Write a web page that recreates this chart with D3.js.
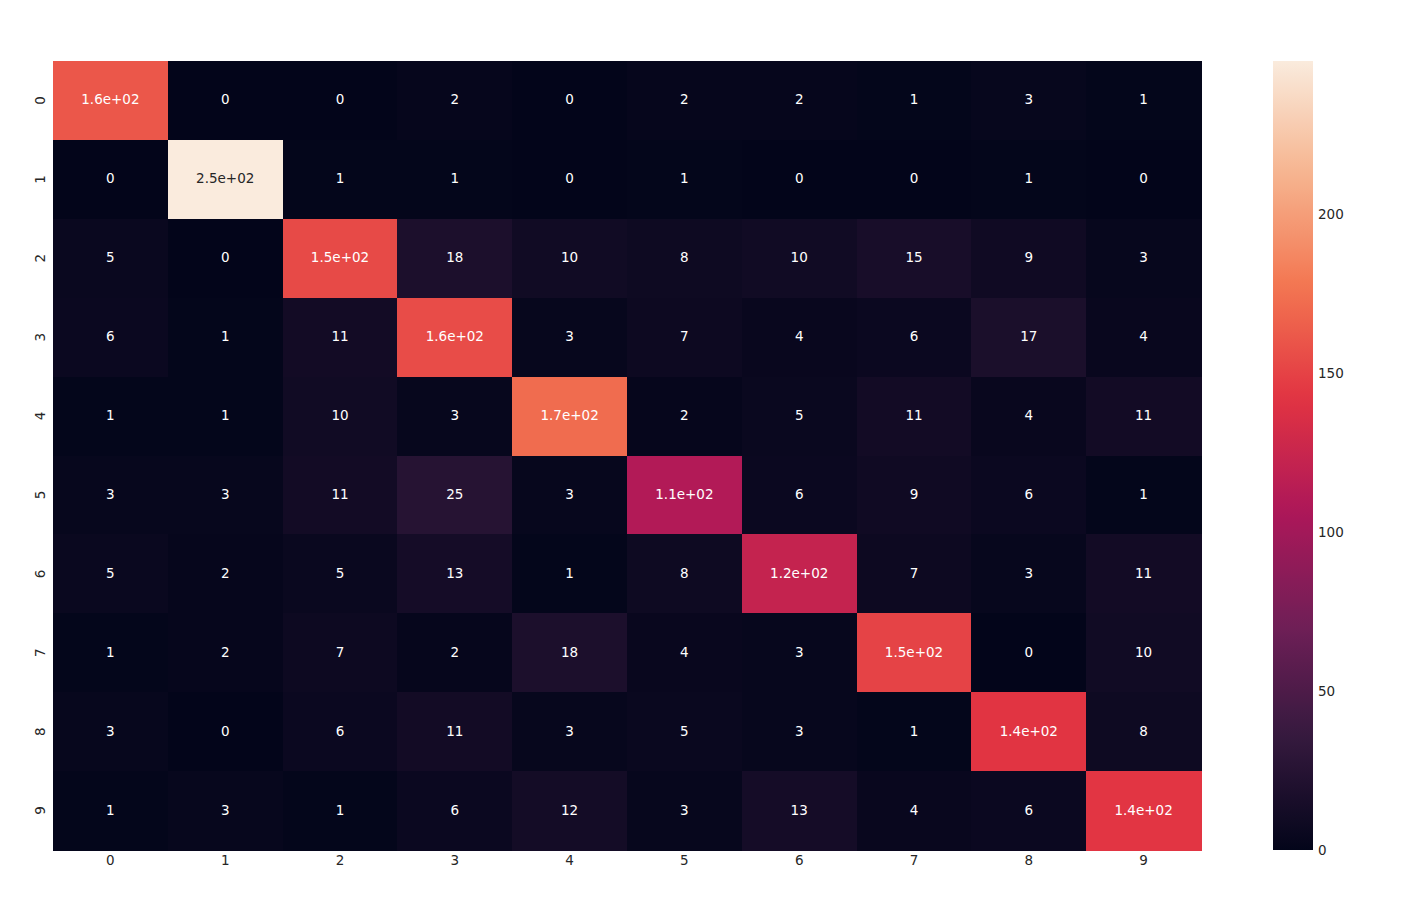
<!DOCTYPE html>
<html>
<head>
<meta charset="utf-8">
<script src="https://cdn.jsdelivr.net/npm/d3@7"></script>
<style>
  html, body { margin: 0; padding: 0; background: #ffffff; }
  svg text { font-family: "DejaVu Sans", sans-serif; }
</style>
</head>
<body>
<svg id="chart" width="1403" height="907"></svg>
<script>
// ---- data ----
const rowLabels = ["0", "1", "2", "3", "4", "5", "6", "7", "8", "9"];
const colLabels = ["0", "1", "2", "3", "4", "5", "6", "7", "8", "9"];
const row0 = [161, 0, 0, 2, 0, 2, 2, 1, 3, 1];
const row1 = [0, 248, 1, 1, 0, 1, 0, 0, 1, 0];
const row2 = [5, 0, 154, 18, 10, 8, 10, 15, 9, 3];
const row3 = [6, 1, 11, 155, 3, 7, 4, 6, 17, 4];
const row4 = [1, 1, 10, 3, 172, 2, 5, 11, 4, 11];
const row5 = [3, 3, 11, 25, 3, 110, 6, 9, 6, 1];
const row6 = [5, 2, 5, 13, 1, 8, 122, 7, 3, 11];
const row7 = [1, 2, 7, 2, 18, 4, 3, 150, 0, 10];
const row8 = [3, 0, 6, 11, 3, 5, 3, 1, 142, 8];
const row9 = [1, 3, 1, 6, 12, 3, 13, 4, 6, 143];
const matrix = [row0, row1, row2, row3, row4, row5, row6, row7, row8, row9];
const colorbarTicks = [0, 50, 100, 150, 200];

(function () {
// rocket colormap approximation (seaborn)
const rocketStops = ["#03051a", "#35193e", "#701f57", "#ad1759", "#e13342", "#f37651", "#f6b48f", "#faebdd"];
const rocketPos = rocketStops.map((d, i) => i === 0 ? 0 : i === rocketStops.length - 1 ? 1 : i / 7);
const rocket = d3.scaleLinear().domain(rocketPos).range(rocketStops).interpolate(d3.interpolateRgb);

// ---- layout ----
const svg = d3.select("#chart");
const pLeft = 53, pRight = 1201, pTop = 61, pBottom = 850;
const vmin = 0, vmax = d3.max(matrix.flat());

const x = d3.scaleBand().domain(colLabels).range([pLeft, pRight]).padding(0);
const y = d3.scaleBand().domain(rowLabels).range([pTop, pBottom]).padding(0);
const color = d3.scaleLinear().domain([vmin, vmax]).range([0, 1]).clamp(true);

function fmt2g(v) {
  if (v === 0) return "0";
  const p = Number(v.toPrecision(2));
  const e = Math.floor(Math.log10(Math.abs(p)));
  if (e < -4 || e >= 2) {
    let m = (p / Math.pow(10, e)).toFixed(1).replace(/\.0$/, "");
    const sign = e < 0 ? "-" : "+";
    const ae = Math.abs(e);
    return m + "e" + sign + (ae < 10 ? "0" + ae : ae);
  }
  return String(p);
}
function relLum(c) {
  const rgb = d3.rgb(c);
  const f = v => { v = v / 255; return v <= 0.03928 ? v / 12.92 : Math.pow((v + 0.055) / 1.055, 2.4); };
  return 0.2126 * f(rgb.r) + 0.7152 * f(rgb.g) + 0.0722 * f(rgb.b);
}

const cells = [];
matrix.forEach((row, i) => row.forEach((v, j) => cells.push({ r: rowLabels[i], c: colLabels[j], v })));

const g = svg.append("g");
g.selectAll("rect.cell").data(cells).enter().append("rect")
  .attr("class", "cell")
  .attr("x", d => x(d.c))
  .attr("y", d => y(d.r))
  .attr("width", x.bandwidth() + 0.6)
  .attr("height", y.bandwidth() + 0.6)
  .attr("shape-rendering", "crispEdges")
  .attr("fill", d => rocket(color(d.v)));

g.selectAll("text.annot").data(cells).enter().append("text")
  .attr("class", "annot")
  .attr("x", d => x(d.c) + x.bandwidth() / 2)
  .attr("y", d => y(d.r) + y.bandwidth() / 2 - 1)
  .attr("text-anchor", "middle")
  .attr("dominant-baseline", "central")
  .attr("font-size", "13.5px")
  .attr("fill", d => relLum(rocket(color(d.v))) > 0.408 ? "#262626" : "#ffffff")
  .text(d => fmt2g(d.v));

// x axis labels
svg.append("g").selectAll("text").data(colLabels).enter().append("text")
  .attr("x", d => x(d) + x.bandwidth() / 2)
  .attr("y", pBottom + 10)
  .attr("text-anchor", "middle")
  .attr("dominant-baseline", "central")
  .attr("font-size", "13.5px")
  .attr("fill", "#262626")
  .text(d => d);

// y axis labels (rotated)
svg.append("g").selectAll("text").data(rowLabels).enter().append("text")
  .attr("transform", d => `translate(${pLeft - 13},${y(d) + y.bandwidth() / 2}) rotate(-90)`)
  .attr("text-anchor", "middle")
  .attr("dominant-baseline", "central")
  .attr("font-size", "13.5px")
  .attr("fill", "#262626")
  .text(d => d);

// colorbar
const cbLeft = 1273, cbWidth = 40;
const cbScale = d3.scaleLinear().domain([vmin, vmax]).range([pBottom, pTop]);
const defs = svg.append("defs");
const grad = defs.append("linearGradient").attr("id", "cbgrad")
  .attr("x1", 0).attr("y1", 1).attr("x2", 0).attr("y2", 0);
d3.range(0, 1.0001, 0.02).forEach(t => {
  grad.append("stop").attr("offset", t).attr("stop-color", rocket(t));
});
svg.append("rect")
  .attr("x", cbLeft).attr("y", pTop)
  .attr("width", cbWidth).attr("height", pBottom - pTop)
  .attr("fill", "url(#cbgrad)");

svg.append("g").selectAll("text").data(colorbarTicks).enter().append("text")
  .attr("x", cbLeft + cbWidth + 5)
  .attr("y", d => cbScale(d))
  .attr("text-anchor", "start")
  .attr("dominant-baseline", "central")
  .attr("font-size", "13.5px")
  .attr("fill", "#262626")
  .text(d => d);
})();
</script>
</body>
</html>
